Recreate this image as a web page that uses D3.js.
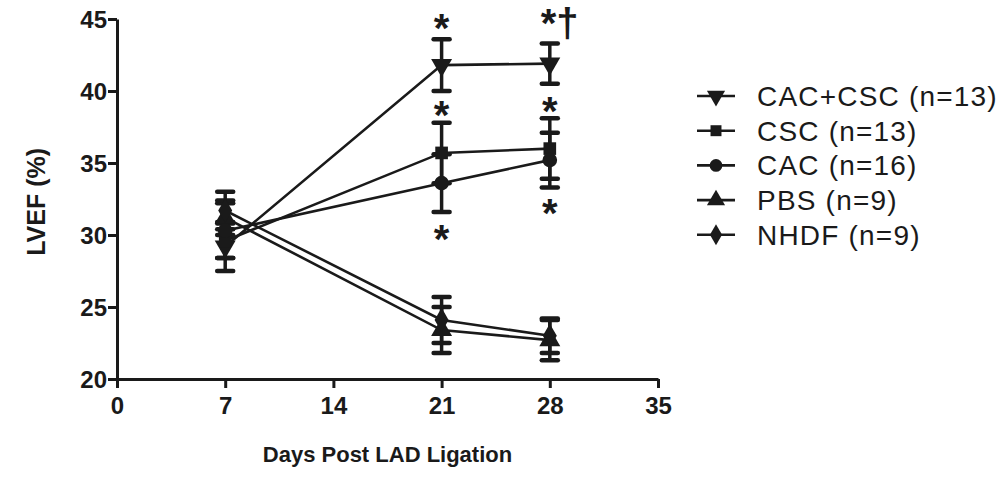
<!DOCTYPE html>
<html>
<head>
<meta charset="utf-8">
<script src="https://cdn.jsdelivr.net/npm/d3@7"></script>
<style>
  body { margin: 0; background: #fff; }
  text { font-family: "Liberation Sans", Arial, sans-serif; fill: #1a1a1a; }
  .tick-label { font-weight: bold; font-size: 24px; }
  .axis-title { font-weight: bold; font-size: 22px; }
  .y-title { font-weight: bold; font-size: 25px; }
  .legend-text { font-size: 28px; letter-spacing: 1.2px; }
  .star { font-weight: bold; font-size: 40px; }
</style>
</head>
<body>
<div id="viz"></div>
<script>
const days = [7, 21, 28];
const groups = ["CAC+CSC (n=13)", "CSC (n=13)", "CAC (n=16)", "PBS (n=9)", "NHDF (n=9)"];
const meanCacCsc = [29.2, 41.8, 41.9];
const semCacCsc = [1.7, 1.8, 1.4];
const meanCsc = [29.6, 35.7, 36.0];
const semCsc = [1.2, 2.1, 2.1];
const meanCac = [30.3, 33.6, 35.2];
const semCac = [1.9, 2.0, 1.9];
const meanPbs = [31.2, 23.4, 22.7];
const semPbs = [1.2, 1.6, 1.4];
const meanNhdf = [31.7, 24.1, 23.0];
const semNhdf = [1.3, 1.6, 1.2];

const xTicks = [0, 7, 14, 21, 28, 35];
const yTicks = [20, 25, 30, 35, 40, 45];

const starDays = [21, 21, 21, 28, 28, 28];
const starValues = [44.9, 38.9, 30.3, 45.3, 39.2, 32.1];
const starLabels = ["*", "*", "*", "*†", "*", "*"];

const ink = "#1a1a1a";
const width = 1005, height = 487;

const x = d3.scaleLinear().domain([0, 35]).range([117, 658]);
const y = d3.scaleLinear().domain([20, 45]).range([379, 19]);

const svg = d3.select("#viz").append("svg")
    .attr("width", width)
    .attr("height", height);

const means = [meanCacCsc, meanCsc, meanCac, meanPbs, meanNhdf];
const sems = [semCacCsc, semCsc, semCac, semPbs, semNhdf];
const series = groups.map((g, i) => ({
    name: g,
    index: i,
    points: days.map((d, j) => ({day: d, mean: means[i][j], sem: sems[i][j]}))
}));

function markerPath(i, scale) {
    const types = [d3.symbolTriangle, d3.symbolSquare, d3.symbolCircle, d3.symbolTriangle, d3.symbolDiamond];
    const sizes = [190, 160, 170, 190, 170];
    return d3.symbol().type(types[i]).size(sizes[i] * scale)();
}
function markerRotate(i) { return i === 0 ? " rotate(180)" : ""; }

// axes
const xAxis = svg.append("g").attr("transform", `translate(0,${y(20)})`)
    .call(d3.axisBottom(x).tickValues(xTicks).tickSize(9).tickSizeOuter(0).tickFormat(d3.format("d")));
const yAxis = svg.append("g").attr("transform", `translate(${x(0)},0)`)
    .call(d3.axisLeft(y).tickValues(yTicks).tickSize(9).tickSizeOuter(0));

[xAxis, yAxis].forEach(a => {
    a.select(".domain").attr("stroke", ink).attr("stroke-width", 3);
    a.selectAll(".tick line").attr("stroke", ink).attr("stroke-width", 3);
    a.selectAll(".tick text").attr("class", "tick-label").attr("fill", ink);
});
xAxis.selectAll(".tick text").attr("dy", "1em").attr("y", 11);
yAxis.selectAll(".tick text").attr("x", -10).attr("dy", "0.36em");

svg.append("text").attr("class", "axis-title")
    .attr("text-anchor", "middle")
    .attr("x", x(17.5)).attr("y", 462)
    .text("Days Post LAD Ligation");

svg.append("text").attr("class", "y-title")
    .attr("text-anchor", "middle")
    .attr("transform", `translate(45,${y(32.3)}) rotate(-90)`)
    .text("LVEF (%)");

// lines
const line = d3.line().x(d => x(d.day)).y(d => y(d.mean));
svg.selectAll(".series-line")
    .data(series)
    .join("path")
        .attr("class", "series-line")
        .attr("fill", "none")
        .attr("stroke", ink)
        .attr("stroke-width", 2.6)
        .attr("d", d => line(d.points));

// error bars
const allPoints = series.flatMap(s => s.points.map(p => ({...p, index: s.index})));
const capW = 8;
const err = svg.selectAll(".err")
    .data(allPoints)
    .join("g")
        .attr("class", "err");
err.append("line")
    .attr("x1", d => x(d.day)).attr("x2", d => x(d.day))
    .attr("y1", d => y(d.mean + d.sem)).attr("y2", d => y(d.mean - d.sem))
    .attr("stroke", ink).attr("stroke-width", 3.5);
err.selectAll(".cap")
    .data(d => [d.mean + d.sem, d.mean - d.sem].map(v => ({day: d.day, v})))
    .join("line")
        .attr("class", "cap")
        .attr("x1", d => x(d.day) - capW).attr("x2", d => x(d.day) + capW)
        .attr("y1", d => y(d.v)).attr("y2", d => y(d.v))
        .attr("stroke", ink).attr("stroke-width", 4.5)
        .attr("stroke-linecap", "round");

// markers
svg.selectAll(".marker")
    .data(allPoints)
    .join("path")
        .attr("class", "marker")
        .attr("fill", ink)
        .attr("d", d => markerPath(d.index, 1))
        .attr("transform", d => `translate(${x(d.day)},${y(d.mean)})${markerRotate(d.index)}`);

// significance marks
svg.selectAll(".star")
    .data(starDays.map((d, i) => ({day: d, v: starValues[i], label: starLabels[i]})))
    .join("text")
        .attr("class", "star")
        .attr("text-anchor", d => d.label.length > 1 ? "start" : "middle")
        .attr("x", d => d.label.length > 1 ? x(d.day) - 9 : x(d.day))
        .attr("y", d => y(d.v) + 22)
        .text(d => d.label);

// legend
const legend = svg.selectAll(".legend")
    .data(series)
    .join("g")
        .attr("class", "legend")
        .attr("transform", (d, i) => `translate(716,${96 + i * 34.7})`);
legend.append("line")
    .attr("x1", -19).attr("x2", 19)
    .attr("stroke", ink).attr("stroke-width", 2.6);
legend.append("path")
    .attr("fill", ink)
    .attr("d", d => markerPath(d.index, 0.75))
    .attr("transform", d => markerRotate(d.index).trim());
legend.append("text")
    .attr("class", "legend-text")
    .attr("x", 41).attr("dy", "0.36em")
    .text(d => d.name);
</script>
</body>
</html>
